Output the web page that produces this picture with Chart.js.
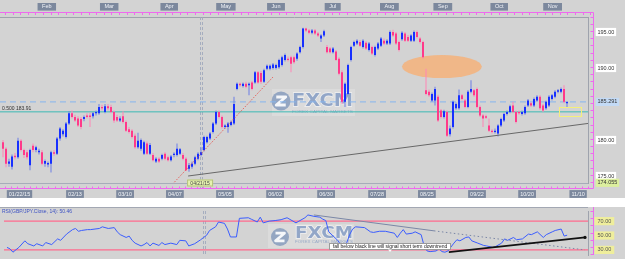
<!DOCTYPE html>
<html>
<head>
<meta charset="utf-8">
<title>GBP/JPY daily with RSI</title>
<script src="https://cdn.jsdelivr.net/npm/chart.js@4.4.1/dist/chart.umd.min.js"></script>
<style>
  html, body { margin: 0; padding: 0; background: #ffffff; }
  #page { position: relative; width: 625px; height: 259px; overflow: hidden; background: #ffffff; }
  #priceBox { position: absolute; left: 0; top: 0; width: 625px; height: 198px; background: #d3d3d3; }
  #rsiBox { position: absolute; left: 0; top: 207px; width: 625px; height: 52px; background: #d3d3d3; }
</style>
</head>
<body>
<div id="page">
  <div id="priceBox"><canvas id="priceChart"></canvas></div>
  <div id="rsiBox"><canvas id="rsiChart"></canvas></div>
</div>
<script>
// ================= Values =================
// one candle per trading day, x = candle number
const candleOpen = [
  179.7, 178.8, 176.7, 176.3, 177.8, 177.6, 179.9, 178.6, 178.3, 176.5,
  179.2, 178.6, 178.3, 178.3, 176.7, 176.6, 176.7, 178.3, 178.1, 180.2,
  180.8, 180.4, 182.3, 183.7, 183.2, 183.0, 182.9, 182.9, 183.4, 183.4,
  183.3, 183.7, 183.7, 184.6, 183.9, 184.7, 184.6, 183.9, 183.2, 182.7,
  183.3, 182.5, 181.5, 181.3, 180.6, 179.0, 178.8, 178.1, 179.5, 178.1,
  177.9, 177.0, 177.4, 177.4, 178.1, 177.6, 177.2, 177.9, 177.9, 178.1,
  177.9, 177.4, 176.0, 176.3, 176.7, 177.4, 177.9, 178.6, 179.7, 180.2,
  181.1, 182.3, 183.9, 183.2, 181.8, 181.8, 182.1, 182.3, 187.1, 187.8,
  187.5, 187.8, 187.6, 188.0, 188.0, 189.4, 189.3, 188.1, 189.9, 189.9,
  190.0, 190.0, 190.1, 190.4, 191.1, 191.3, 191.5, 191.5, 191.3, 192.2,
  192.9, 195.5, 195.2, 194.9, 195.2, 194.8, 194.1, 194.5, 192.9, 192.7,
  192.2, 192.3, 191.3, 189.4, 185.3, 186.4, 191.1, 193.1, 193.4, 193.6,
  192.9, 193.5, 192.5, 192.9, 191.8, 192.7, 193.1, 193.8, 193.4, 193.4,
  195.0, 194.8, 193.6, 194.0, 194.8, 194.3, 193.8, 193.8, 195.0, 194.1,
  193.6, 186.9, 186.7, 185.5, 185.5, 186.0, 184.1, 183.2, 183.9, 180.8,
  181.8, 184.4, 184.4, 186.2, 185.5, 184.6, 186.7, 186.9, 187.1, 184.6,
  183.4, 183.3, 182.0, 181.3, 181.1, 180.9, 182.0, 182.7, 183.6, 183.9,
  184.8, 183.9, 183.9, 183.6, 183.7, 184.8, 185.1, 184.8, 185.5, 186.0,
  184.8, 184.4, 184.8, 185.7, 186.0, 186.7, 186.7, 187.1, 185.1
];
const candleHigh = [
  180.0, 179.0, 177.4, 178.0, 178.2, 180.3, 180.1, 178.8, 178.6, 178.8,
  179.5, 179.2, 178.8, 178.6, 177.3, 177.0, 178.5, 178.6, 180.4, 181.8,
  181.5, 182.5, 184.0, 184.1, 183.5, 183.3, 183.2, 183.4, 183.7, 183.8,
  183.9, 184.1, 185.0, 184.9, 185.0, 185.0, 184.9, 184.1, 183.5, 183.3,
  184.0, 182.7, 181.8, 181.5, 180.9, 181.0, 180.2, 179.9, 179.8, 179.6,
  178.2, 177.6, 177.6, 178.1, 178.3, 177.8, 177.9, 178.3, 179.5, 178.9,
  178.2, 177.6, 176.8, 177.0, 177.8, 178.3, 179.0, 180.6, 180.6, 181.1,
  182.5, 184.1, 184.1, 183.4, 182.2, 182.5, 182.7, 186.0, 188.0, 188.0,
  188.0, 188.1, 188.0, 188.2, 189.6, 189.6, 189.6, 189.9, 190.5, 190.5,
  190.7, 190.6, 191.3, 191.7, 192.0, 191.6, 191.7, 191.7, 192.2, 193.1,
  195.6, 195.6, 195.4, 195.4, 195.4, 195.0, 194.7, 195.3, 193.2, 192.9,
  192.9, 192.5, 191.5, 189.7, 188.0, 190.6, 193.1, 193.8, 194.0, 193.9,
  194.0, 193.7, 193.6, 193.1, 193.1, 193.6, 194.3, 194.1, 194.0, 195.2,
  195.3, 195.0, 193.8, 195.1, 195.0, 194.6, 194.7, 195.2, 195.2, 194.3,
  193.8, 189.9, 187.0, 186.6, 187.4, 186.3, 184.3, 184.2, 184.1, 182.0,
  185.5, 185.2, 187.0, 186.4, 185.7, 186.9, 188.3, 187.1, 187.3, 184.8,
  183.6, 183.5, 183.0, 181.5, 181.6, 182.2, 183.1, 183.8, 184.1, 184.9,
  185.3, 184.1, 184.1, 184.1, 184.8, 185.7, 185.3, 185.9, 186.2, 186.2,
  185.0, 185.5, 186.2, 186.4, 186.9, 187.1, 187.3, 187.6, 185.4
];
const candleLow = [
  177.6, 176.2, 176.3, 175.9, 177.3, 177.4, 178.4, 177.5, 177.3, 175.8,
  178.3, 178.3, 178.0, 176.5, 176.3, 176.2, 175.5, 177.8, 177.9, 179.9,
  180.5, 180.2, 182.1, 183.0, 182.5, 181.8, 181.5, 182.6, 183.0, 181.8,
  183.0, 183.4, 183.5, 184.1, 183.7, 184.1, 183.7, 182.4, 182.5, 182.5,
  182.3, 181.1, 180.9, 180.2, 178.8, 178.8, 178.5, 177.9, 177.9, 177.9,
  177.0, 176.8, 176.8, 177.2, 177.2, 177.0, 177.0, 177.6, 177.7, 177.9,
  177.2, 175.7, 175.6, 176.0, 176.5, 177.2, 177.7, 178.4, 179.5, 180.0,
  180.9, 182.1, 183.0, 181.6, 181.6, 181.0, 181.9, 182.1, 186.9, 187.4,
  187.3, 187.2, 186.2, 186.9, 187.8, 187.8, 187.8, 187.9, 189.7, 189.7,
  189.8, 189.8, 189.9, 190.2, 190.9, 190.9, 189.4, 190.6, 191.0, 192.0,
  192.7, 195.0, 194.7, 194.7, 194.6, 194.3, 193.6, 194.3, 192.0, 192.0,
  192.0, 191.0, 189.0, 185.0, 184.6, 186.2, 190.9, 192.9, 193.2, 192.9,
  192.7, 192.5, 192.3, 191.8, 191.6, 192.5, 192.9, 193.2, 193.2, 193.2,
  194.3, 193.2, 192.3, 193.8, 193.6, 193.6, 193.6, 193.6, 194.1, 193.4,
  191.3, 186.2, 186.0, 185.3, 184.8, 182.5, 183.0, 183.0, 180.4, 180.5,
  181.6, 184.2, 184.2, 185.5, 184.4, 184.4, 186.5, 186.0, 184.4, 183.2,
  181.8, 182.9, 181.1, 180.9, 180.9, 180.5, 181.8, 182.5, 183.4, 183.7,
  183.7, 182.3, 183.5, 183.4, 183.5, 184.6, 184.6, 184.6, 185.3, 184.2,
  183.9, 184.2, 184.6, 185.5, 185.8, 186.5, 186.5, 185.1, 184.6
];
const candleClose = [
  178.8, 176.7, 177.0, 177.7, 177.6, 179.9, 178.6, 177.9, 177.6, 178.6,
  178.6, 179.0, 178.5, 176.7, 177.1, 176.8, 178.3, 178.1, 180.2, 181.6,
  181.3, 182.3, 183.7, 183.2, 182.7, 182.0, 181.8, 183.2, 183.2, 183.2,
  183.7, 183.9, 184.6, 184.4, 184.7, 184.4, 183.9, 182.7, 182.7, 183.0,
  182.5, 181.3, 181.1, 180.4, 179.0, 179.9, 180.0, 179.7, 178.1, 179.3,
  177.2, 177.4, 177.0, 177.9, 177.4, 177.2, 177.7, 178.1, 178.8, 178.7,
  177.4, 175.8, 176.5, 176.7, 177.6, 178.1, 178.3, 180.4, 180.4, 180.9,
  182.3, 183.9, 183.2, 181.8, 182.0, 182.3, 182.5, 185.0, 187.8, 187.6,
  187.8, 187.4, 187.8, 187.1, 189.4, 188.0, 188.1, 189.7, 190.3, 190.3,
  190.5, 190.4, 191.1, 191.5, 191.8, 191.1, 190.6, 190.8, 192.0, 192.9,
  195.5, 195.2, 194.9, 195.2, 194.8, 194.5, 194.5, 195.1, 192.2, 192.2,
  192.7, 191.1, 189.2, 185.3, 187.8, 190.4, 192.9, 193.6, 193.8, 193.1,
  193.8, 192.7, 193.4, 192.0, 192.9, 193.4, 194.1, 193.4, 193.8, 195.0,
  194.5, 193.4, 192.5, 194.9, 193.8, 193.8, 194.5, 195.0, 194.3, 193.6,
  191.5, 186.4, 186.2, 186.4, 187.1, 182.7, 183.2, 184.0, 180.6, 181.6,
  185.3, 185.0, 186.2, 185.7, 184.6, 186.7, 187.1, 186.2, 184.6, 183.4,
  183.0, 183.1, 181.3, 181.1, 181.3, 182.0, 182.9, 183.6, 183.9, 184.7,
  183.9, 182.5, 183.7, 183.9, 184.6, 185.5, 184.8, 185.7, 186.0, 184.4,
  184.1, 185.3, 186.0, 186.2, 186.7, 186.9, 187.1, 185.3, 185.29
];

// axis labels (positions are candle numbers)
const monthTickIndex = [14.6, 35.4, 55.4, 74.3, 91, 109.9, 128.8, 146.6, 165.4, 183.2];
const monthLabels = ['Feb', 'Mar', 'Apr', 'May', 'Jun', 'Jul', 'Aug', 'Sep', 'Oct', 'Nov'];
const dateTickIndex = [5.5, 24, 40.7, 57.3, 74, 90.7, 107.7, 124.7, 141.3, 158, 174.7, 191.7];
const dateLabels = ['01/22/15', '02/13', '03/10', '04/07', '05/05', '06/02', '06/30', '07/28', '08/25', '09/22', '10/20', '11/10'];
const priceTicks = [195, 190, 185.291, 180, 175, 174.055];
const rsiTicks = [70, 50, 30];

// RSI(14) line, read at its turning points
const rsiIndex = [0, 1, 2, 4, 6, 7, 9, 10, 12, 13, 15, 17, 18, 20, 22, 23, 24, 25, 27, 28,
  31, 32, 34, 36, 37, 38, 40, 41, 42, 43, 45, 46, 47, 48, 49, 51, 52, 53, 55, 57,
  58, 60, 61, 63, 65, 66, 67, 68, 70, 71, 73, 74, 75, 77, 78, 81, 82, 84, 85, 86,
  88, 90, 92, 94, 97, 98, 100, 101, 103, 105, 106, 107, 108, 111, 113, 114, 115, 116, 117, 120,
  122, 123, 125, 127, 130, 131, 132, 133, 134, 136, 137, 139, 140, 141, 142, 144, 145, 146, 147, 148,
  150, 151, 152, 154, 155, 156, 158, 160, 161, 163, 164, 166, 167, 168, 170, 171, 173, 175, 176, 178,
  180, 181, 183, 184, 186, 187, 188];
const rsiValue = [33.5, 31.5, 26.8, 33.5, 42.6, 38.6, 35.5, 38.6, 35.5, 40.2, 37.4, 45.3, 43.3, 52, 58.2, 59.8, 55.9, 57, 58.2, 58.2,
  59.8, 62.1, 59.8, 61, 55.1, 51.2, 47.3, 49.2, 43.3, 39.4, 35.5, 37.4, 40.2, 35.5, 39.4, 36.2, 40.2, 37.4, 39.4, 37.4,
  43.3, 42.6, 35.5, 38.6, 44.1, 47.3, 50.4, 57, 62.1, 68.8, 66.9, 59, 48, 48, 73.9, 74.7, 72.7, 68.8, 75.5, 67.6,
  70, 70.8, 72, 74.7, 67.6, 70, 74.7, 78.6, 76.7, 75.5, 72.7, 70.8, 55.1, 43.3, 31.5, 39.4, 51.2, 59, 62.1, 61,
  55.1, 54.3, 55.9, 55.9, 53.2, 47.3, 53.2, 58.2, 52, 53.2, 55.1, 51.2, 35.5, 28.5, 27.6, 28.5, 31.5, 27.6, 26.8, 28.5,
  39.4, 44.1, 42.6, 47.3, 48, 42.6, 39.4, 36.2, 35.5, 33.5, 34.7, 39.4, 45.3, 43.3, 47.3, 44.1, 45.3, 52, 51.2, 55.1,
  47.3, 51.2, 55.1, 57, 59, 49.2, 50.46];
const rsiLast = 50.46;

// drawn studies
const fibLevel = 183.91;
const lastPrice = 185.291;
const crossPrice = 174.055;
const redTrendIndex = [56.7, 90];
const redTrendPrice = [173.95, 188.75];
const grayTrendIndex = [61.7, 195];
const grayTrendPrice = [175.0, 182.3];
const rsiTrendIndex = [103, 143.3, 194];
const rsiTrendValue = [78.6, 56.5, 30];
const blackLineIndex = [148.3, 194];
const blackLineValue = [26.8, 47.3];
const crossIndex = 65.7;

// ================= Helpers =================
Chart.defaults.font.family = '"Liberation Sans", Arial, sans-serif';

const X_MIN = -1;
const X_MAX = 195;
const FRAME = '#ee6aee';

function points(xs, ys) {
  return xs.map((v, i) => ({ x: v, y: ys[i] }));
}

function flatLine(value) {
  return [{ x: X_MIN, y: value }, { x: X_MAX, y: value }];
}

// keep label overhang from shrinking the plot area
function fixHeight(h) {
  return axis => {
    axis.height = h;
    axis.paddingLeft = 0;
    axis.paddingRight = 0;
  };
}

const candleIndex = candleOpen.map((_, i) => i);
const isUp = candleIndex.map(i => candleClose[i] >= candleOpen[i]);

function drawWatermark(ctx, m) {
  ctx.save();
  ctx.fillStyle = 'rgba(255,255,255,0.2)';
  ctx.fillRect(m.boxLeft, m.boxTop, m.boxWidth, m.boxHeight);

  // round logo
  ctx.fillStyle = 'rgba(130,152,188,0.8)';
  ctx.beginPath();
  ctx.arc(m.logoX, m.logoY, m.logoR, 0, Math.PI * 2);
  ctx.fill();
  ctx.strokeStyle = 'rgba(255,255,255,0.9)';
  ctx.lineWidth = m.logoR * 0.3;
  ctx.lineJoin = 'round';
  ctx.beginPath();
  ctx.moveTo(m.logoX - m.logoR * 0.5, m.logoY - m.logoR * 0.42);
  ctx.lineTo(m.logoX + m.logoR * 0.5, m.logoY - m.logoR * 0.42);
  ctx.lineTo(m.logoX - m.logoR * 0.5, m.logoY + m.logoR * 0.42);
  ctx.lineTo(m.logoX + m.logoR * 0.5, m.logoY + m.logoR * 0.42);
  ctx.stroke();
  ctx.restore();

  // word mark
  ctx.save();
  const size = m.capHeight / 0.73;
  ctx.font = `bold ${size}px "DejaVu Sans"`;
  const w = ctx.measureText('FXCM').width;
  ctx.translate(m.textLeft, m.textTop + m.capHeight);
  ctx.scale(m.textWidth / w, 1);
  ctx.textBaseline = 'alphabetic';
  ctx.lineWidth = 1.4;
  ctx.strokeStyle = 'rgba(255,255,255,0.6)';
  ctx.strokeText('FXCM', 0, 0);
  ctx.fillStyle = 'rgba(138,160,196,0.9)';
  ctx.fillText('FXCM', 0, 0);
  ctx.restore();

  ctx.save();
  ctx.font = '3.6px "Liberation Sans"';
  const tw = ctx.measureText('FOREX CAPITAL MARKETS').width;
  ctx.translate(m.textLeft, m.tagY);
  ctx.scale(m.textWidth / tw, 1);
  ctx.textBaseline = 'middle';
  ctx.fillStyle = 'rgba(150,168,198,0.95)';
  ctx.fillText('FOREX CAPITAL MARKETS', 0, 0);
  ctx.restore();
}

function drawCrosshair(ctx, px, top, bottom) {
  ctx.save();
  ctx.strokeStyle = 'rgba(160,168,188,0.9)';
  ctx.lineWidth = 1;
  ctx.setLineDash([3, 2]);
  [0.5, 2.5].forEach(off => {
    ctx.beginPath();
    ctx.moveTo(Math.round(px) + off, top);
    ctx.lineTo(Math.round(px) + off, bottom);
    ctx.stroke();
  });
  ctx.restore();
}

function frameLineH(ctx, y, x0, x1, step, len) {
  ctx.beginPath();
  ctx.moveTo(x0, y);
  ctx.lineTo(x1, y);
  for (let x = x0 + 5; x < x1; x += step) {
    ctx.moveTo(Math.round(x) + 0.5, y);
    ctx.lineTo(Math.round(x) + 0.5, y + len);
  }
  ctx.stroke();
}

function frameLineV(ctx, x, y0, y1, step, len) {
  ctx.beginPath();
  ctx.moveTo(x, y0);
  ctx.lineTo(x, y1);
  for (let y = y0 + 4; y < y1; y += step) {
    ctx.moveTo(x, Math.round(y) + 0.5);
    ctx.lineTo(x + len, Math.round(y) + 0.5);
  }
  ctx.stroke();
}

// ================= Price panel =================
const priceDecor = {
  id: 'priceDecor',
  beforeDatasetsDraw(chart) {
    const { ctx, chartArea: a, scales: { x, y } } = chart;
    ctx.save();
    // orange highlight over the August gap
    const cx = x.getPixelForValue(146.3);
    const cy = y.getPixelForValue(190.2);
    const rx = x.getPixelForValue(146.3 + 13.3) - cx;
    const ry = cy - y.getPixelForValue(190.2 + 1.6);
    ctx.fillStyle = 'rgba(244,178,122,0.85)';
    ctx.beginPath();
    ctx.ellipse(cx, cy, rx, ry, 0, 0, Math.PI * 2);
    ctx.fill();
    ctx.restore();

    drawWatermark(ctx, {
      boxLeft: 272, boxTop: 89, boxWidth: 83, boxHeight: 27,
      logoX: 281, logoY: 101, logoR: 9.5,
      textLeft: 292, textTop: 93, capHeight: 13, textWidth: 61, tagY: 111.5
    });
    drawCrosshair(ctx, x.getPixelForValue(crossIndex), a.top, a.bottom + 5);
  },
  afterDraw(chart) {
    const { ctx, chartArea: a, scales: { x, y } } = chart;
    ctx.save();

    // magenta frame with tick marks
    ctx.strokeStyle = FRAME;
    ctx.lineWidth = 1;
    const fr = a.right + 5.5;
    frameLineH(ctx, a.top - 4.5, 0, fr, 7.6, 2.5);
    frameLineH(ctx, a.bottom + 5.5, 0, fr, 6.2, -2);
    frameLineV(ctx, fr, a.top - 4.5, a.bottom + 5.5, 7.2, -3);

    // fibonacci label
    ctx.font = '5px "Liberation Sans"';
    ctx.fillStyle = '#2e2e2e';
    ctx.textBaseline = 'middle';
    ctx.fillText('0.500 183.91', 2, y.getPixelForValue(fibLevel) - 3.5);

    // start label of the grey trend line
    const lx = x.getPixelForValue(grayTrendIndex[0]) - 1;
    const ly = a.bottom - 3.5;
    ctx.fillStyle = '#e6f2b0';
    ctx.strokeStyle = '#b3c07c';
    ctx.fillRect(lx, ly, 26, 7);
    ctx.strokeRect(lx + 0.5, ly + 0.5, 25, 6);
    ctx.fillStyle = '#454545';
    ctx.textAlign = 'center';
    ctx.fillText('04/21/15', lx + 13, ly + 3.8);

    // small box at the last price
    const bx0 = x.getPixelForValue(185.3), bx1 = x.getPixelForValue(192.7);
    const by0 = y.getPixelForValue(184.6), by1 = y.getPixelForValue(183.3);
    ctx.strokeStyle = '#f4ef7c';
    ctx.strokeRect(Math.round(bx0) + 0.5, Math.round(by0) + 0.5, Math.round(bx1 - bx0), Math.round(by1 - by0));
    ctx.restore();
  }
};

new Chart(document.getElementById('priceChart'), {
  type: 'bar',
  data: {
    datasets: [
      {
        type: 'line', label: 'Red trend', order: -2,
        data: points(redTrendIndex, redTrendPrice),
        borderColor: '#e8453f', borderWidth: 1, borderDash: [1, 1.5], pointRadius: 0
      },
      {
        type: 'line', label: 'Grey trend', order: -1,
        data: points(grayTrendIndex, grayTrendPrice),
        borderColor: '#686868', borderWidth: 1, pointRadius: 0
      },
      {
        label: 'Bodies', order: 0,
        data: candleIndex.map(i => ({ x: i, y: [candleOpen[i], candleClose[i]] })),
        backgroundColor: isUp.map(u => (u ? '#1730ff' : '#ff3a8a')),
        barThickness: 2, grouped: false, inflateAmount: 0, minBarLength: 1
      },
      {
        label: 'Wicks', order: 1,
        data: candleIndex.map(i => ({ x: i, y: [candleLow[i], candleHigh[i]] })),
        backgroundColor: isUp.map(u => (u ? '#6d7fe6' : '#ff86b6')),
        barThickness: 1, grouped: false, inflateAmount: 0
      },
      {
        type: 'line', label: 'Last price', order: 2,
        data: flatLine(lastPrice),
        borderColor: '#86b6ee', borderWidth: 1, borderDash: [6, 4], pointRadius: 0
      },
      {
        type: 'line', label: '0.500', order: 3,
        data: flatLine(fibLevel),
        borderColor: '#3cb9b4', borderWidth: 1, pointRadius: 0
      }
    ]
  },
  options: {
    responsive: true,
    maintainAspectRatio: false,
    animation: false,
    devicePixelRatio: 1,
    events: [],
    layout: { padding: 0 },
    plugins: { legend: { display: false }, tooltip: { enabled: false } },
    scales: {
      x: {
        type: 'linear', position: 'bottom', min: X_MIN, max: X_MAX, offset: false,
        grid: { display: false, drawTicks: false, offset: false },
        border: { display: true, color: '#a6acba', dash: [2, 2] },
        afterBuildTicks: axis => { axis.ticks = dateTickIndex.map(v => ({ value: v })); },
        afterFit: fixHeight(15),
        ticks: {
          autoSkip: false, maxRotation: 0, padding: 7.7,
          color: '#f2f4f8', font: { size: 5.5 },
          showLabelBackdrop: true, backdropColor: '#7c889d', backdropPadding: { x: 2, y: 0.6 },
          callback: (v, i) => dateLabels[i]
        }
      },
      xTop: {
        type: 'linear', position: 'top', min: X_MIN, max: X_MAX, offset: false,
        grid: { display: false, drawTicks: false, offset: false },
        border: { display: true, color: '#9ea3ad' },
        afterBuildTicks: axis => { axis.ticks = monthTickIndex.map(v => ({ value: v })); },
        afterFit: fixHeight(17),
        ticks: {
          autoSkip: false, maxRotation: 0, padding: 6.9,
          color: '#f2f4f8', font: { size: 5.5 },
          showLabelBackdrop: true, backdropColor: '#7c889d', backdropPadding: { x: 4.5, y: 0.5 },
          callback: (v, i) => monthLabels[i]
        }
      },
      y: {
        position: 'right', min: 174.028, max: 197.083,
        grid: { display: false, drawTicks: false },
        border: { display: true, color: '#9ea3ad' },
        afterBuildTicks: axis => { axis.ticks = priceTicks.map(v => ({ value: v })); },
        afterFit: axis => { axis.width = 37; axis.paddingTop = 0; axis.paddingBottom = 0; },
        ticks: {
          autoSkip: false, padding: 9.5,
          color: '#333333', font: { size: 5.5 },
          showLabelBackdrop: true,
          backdropColor: ctx => (ctx.tick.value === lastPrice ? '#c3daf5' : ctx.tick.value === crossPrice ? '#dcef9e' : '#ffffff'),
          backdropPadding: { x: 1.8, y: 0.8 },
          callback: v => (Math.round(v * 1000) % 10 ? v.toFixed(3) : v.toFixed(2))
        }
      }
    }
  },
  plugins: [priceDecor]
});

// ================= RSI panel =================
const rsiDecor = {
  id: 'rsiDecor',
  beforeDatasetsDraw(chart) {
    const { ctx, chartArea: a, scales: { x } } = chart;
    drawWatermark(ctx, {
      boxLeft: 268, boxTop: 17, boxWidth: 86, boxHeight: 24,
      logoX: 280, logoY: 30, logoR: 9,
      textLeft: 295, textTop: 20, capHeight: 11, textWidth: 58, tagY: 34.5
    });
    drawCrosshair(ctx, x.getPixelForValue(crossIndex), a.top, a.bottom);
  },
  afterDraw(chart) {
    const { ctx, chartArea: a, scales: { x, y } } = chart;
    ctx.save();
    // panel top border
    ctx.strokeStyle = '#a3a8b3';
    ctx.beginPath();
    ctx.moveTo(0, 0.5);
    ctx.lineTo(a.right, 0.5);
    ctx.stroke();

    ctx.strokeStyle = FRAME;
    frameLineV(ctx, a.right + 5.5, 0, a.bottom, 7.2, -3);

    // study title
    ctx.font = '5px "Liberation Sans"';
    ctx.fillStyle = '#3d52c4';
    ctx.textBaseline = 'middle';
    ctx.fillText('RSI(GBP/JPY.Close, 14): ' + rsiLast.toFixed(2), 2, 4.8);

    // note box
    const note = 'fall below black line will signal short term downtrend';
    const nx = x.getPixelForValue(108);
    const ny = y.getPixelForValue(35.3);
    const nw = ctx.measureText(note).width + 8;
    ctx.fillStyle = '#ffffff';
    ctx.strokeStyle = '#9a9a9a';
    ctx.fillRect(Math.round(nx), Math.round(ny - 3.5), Math.round(nw), 7);
    ctx.strokeRect(Math.round(nx) + 0.5, Math.round(ny - 3.5) + 0.5, Math.round(nw) - 1, 6);
    ctx.beginPath();
    ctx.moveTo(nx + nw / 2 - 2, ny + 3.5);
    ctx.lineTo(nx + nw / 2, ny + 6);
    ctx.lineTo(nx + nw / 2 + 2, ny + 3.5);
    ctx.fill();
    ctx.fillStyle = '#222222';
    ctx.fillText(note, nx + 4, ny + 0.3);
    ctx.restore();
  }
};

new Chart(document.getElementById('rsiChart'), {
  type: 'line',
  data: {
    datasets: [
      {
        label: 'Black line', order: -2,
        data: points(blackLineIndex, blackLineValue),
        borderColor: '#111111', borderWidth: 1.8,
        pointRadius: [0, 1.6], pointBackgroundColor: '#111111', pointBorderWidth: 0
      },
      {
        label: 'RSI trend', order: -1,
        data: points(rsiTrendIndex.slice(0, 2), rsiTrendValue.slice(0, 2)),
        borderColor: '#7b87a6', borderWidth: 1, pointRadius: 0
      },
      {
        label: 'RSI trend extension', order: -1,
        data: points(rsiTrendIndex.slice(1), rsiTrendValue.slice(1)),
        borderColor: '#7b87a6', borderWidth: 1, borderDash: [1.5, 2.5], pointRadius: 0
      },
      {
        label: 'RSI', order: 0,
        data: points(rsiIndex, rsiValue),
        borderColor: '#3a5cff', borderWidth: 1, pointRadius: 0, tension: 0
      },
      {
        label: '70', order: 1,
        data: flatLine(70),
        borderColor: '#ff6b8e', borderWidth: 1.4, pointRadius: 0
      },
      {
        label: '30', order: 1,
        data: flatLine(30),
        borderColor: '#ff6b8e', borderWidth: 1.4, pointRadius: 0
      }
    ]
  },
  options: {
    responsive: true,
    maintainAspectRatio: false,
    animation: false,
    devicePixelRatio: 1,
    events: [],
    layout: { padding: 0 },
    plugins: { legend: { display: false }, tooltip: { enabled: false } },
    scales: {
      x: { type: 'linear', min: X_MIN, max: X_MAX, display: false },
      y: {
        position: 'right', min: 22.9, max: 84.1,
        grid: { display: false, drawTicks: false },
        border: { display: true, color: '#9ea3ad' },
        afterBuildTicks: axis => { axis.ticks = rsiTicks.map(v => ({ value: v })); },
        afterFit: axis => { axis.width = 37; axis.paddingTop = 0; axis.paddingBottom = 0; },
        ticks: {
          autoSkip: false, padding: 9.5,
          color: '#555555', font: { size: 5.5 },
          showLabelBackdrop: true, backdropColor: '#efee9c', backdropPadding: { x: 3, y: 0.8 },
          callback: v => v.toFixed(2)
        }
      }
    }
  },
  plugins: [rsiDecor]
});
</script>
</body>
</html>
